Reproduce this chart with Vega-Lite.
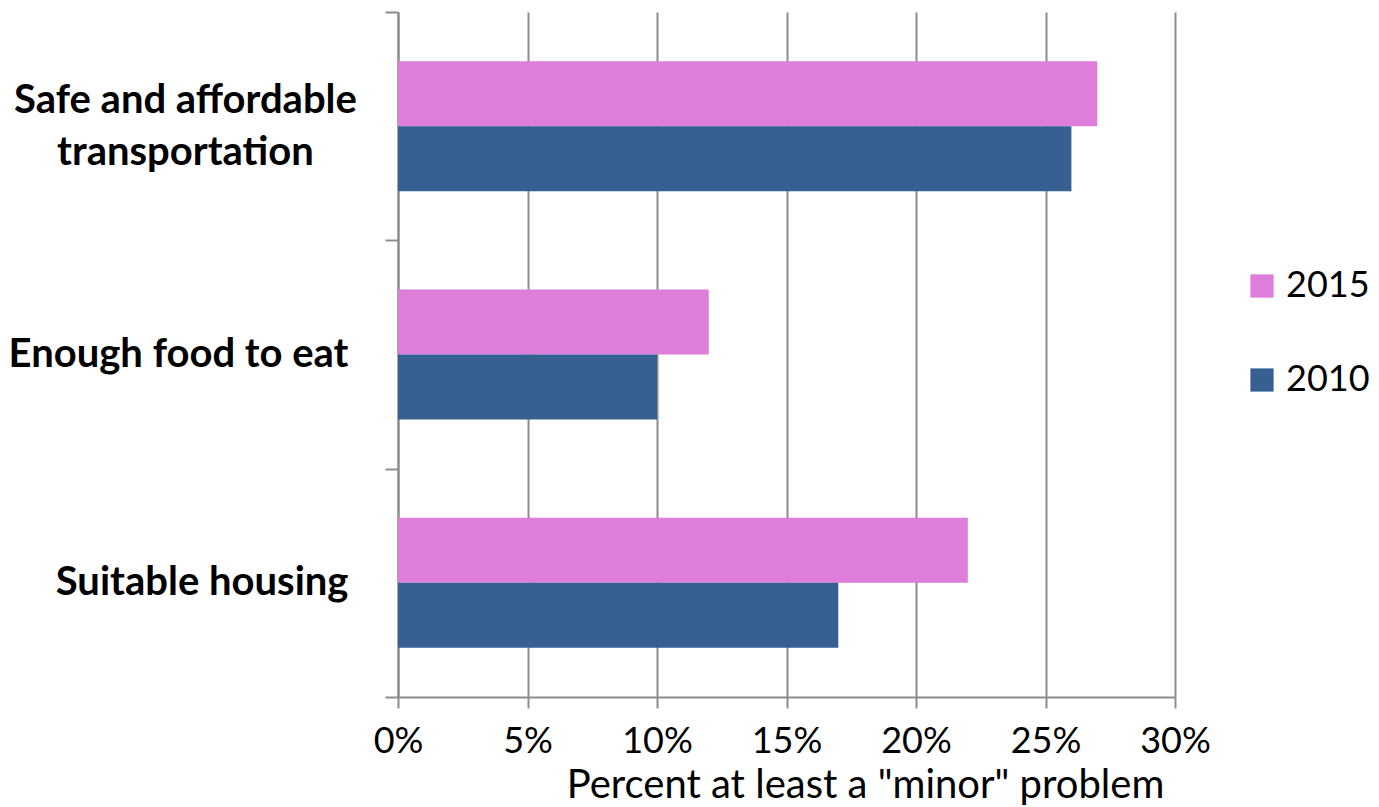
{
  "$schema": "https://vega.github.io/schema/vega-lite/v6.json",
  "autosize": {"type": "none"},
  "padding": {"left": 398, "top": 12, "right": 204, "bottom": 110},
  "width": 777,
  "height": 685,
  "background": "white",
  "data": {
    "values": [
      {"item": "Safe and affordable transportation", "year": "2015", "pct": 0.27},
      {"item": "Safe and affordable transportation", "year": "2010", "pct": 0.26},
      {"item": "Enough food to eat", "year": "2015", "pct": 0.12},
      {"item": "Enough food to eat", "year": "2010", "pct": 0.10},
      {"item": "Suitable housing", "year": "2015", "pct": 0.22},
      {"item": "Suitable housing", "year": "2010", "pct": 0.17}
    ]
  },
  "mark": {"type": "bar"},
  "encoding": {
    "y": {
      "field": "item",
      "type": "nominal",
      "sort": ["Safe and affordable transportation", "Enough food to eat", "Suitable housing"],
      "scale": {"paddingInner": 0, "paddingOuter": 0},
      "axis": {
        "title": null,
        "tickBand": "extent",
        "labelExpr": "datum.label == 'Safe and affordable transportation' ? ['Safe and affordable', 'transportation'] : datum.label",
        "labelFont": "Lato",
        "labelFontWeight": "bold",
        "labelFontSize": 40,
        "labelColor": "black",
        "labelAlign": {"condition": {"test": "datum.value == 'Safe and affordable transportation'", "value": "center"}, "value": "right"},
        "labelPadding": {"condition": {"test": "datum.value == 'Safe and affordable transportation'", "value": 200}, "value": 37},
        "labelOffset": {"condition": {"test": "datum.value == 'Safe and affordable transportation'", "value": -26}, "value": 0},
        "labelLineHeight": 52,
        "labelLimit": 0,
        "domainColor": "#8c8c8c",
        "domainWidth": 2,
        "tickColor": "#8c8c8c",
        "tickWidth": 2,
        "tickSize": 13,
        "grid": false
      }
    },
    "yOffset": {
      "field": "year",
      "type": "nominal",
      "sort": ["2015", "2010"],
      "scale": {"paddingInner": 0, "paddingOuter": 0.756}
    },
    "x": {
      "field": "pct",
      "type": "quantitative",
      "scale": {"domain": [0, 0.3], "nice": false},
      "axis": {
        "title": "Percent at least a \"minor\" problem",
        "titleFont": "Lato",
        "titleFontWeight": "normal",
        "titleFontSize": 40,
        "titleColor": "black",
        "titleX": 467,
        "titleY": 100,
        "titleBaseline": "alphabetic",
        "format": ".0%",
        "values": [0, 0.05, 0.1, 0.15, 0.2, 0.25, 0.3],
        "labelFont": "Lato",
        "labelFontSize": 36,
        "labelColor": "black",
        "labelPadding": 16,
        "labelFlush": false,
        "labelOverlap": false,
        "domainColor": "#8c8c8c",
        "domainWidth": 2,
        "tickColor": "#8c8c8c",
        "tickWidth": 2,
        "tickSize": 11,
        "grid": true,
        "gridColor": "#8c8c8c",
        "gridWidth": 2
      }
    },
    "color": {
      "field": "year",
      "type": "nominal",
      "sort": ["2015", "2010"],
      "scale": {"domain": ["2015", "2010"], "range": ["#df7dda", "#366092"]},
      "legend": {
        "title": null,
        "orient": "none",
        "legendX": 846,
        "legendY": 256,
        "symbolType": "square",
        "symbolSize": 540,
        "symbolStrokeWidth": 0,
        "symbolOpacity": 1,
        "labelFont": "Lato",
        "labelFontSize": 36,
        "labelColor": "black",
        "labelOffset": 6,
        "rowPadding": 58
      }
    }
  },
  "config": {"view": {"stroke": null}}
}
